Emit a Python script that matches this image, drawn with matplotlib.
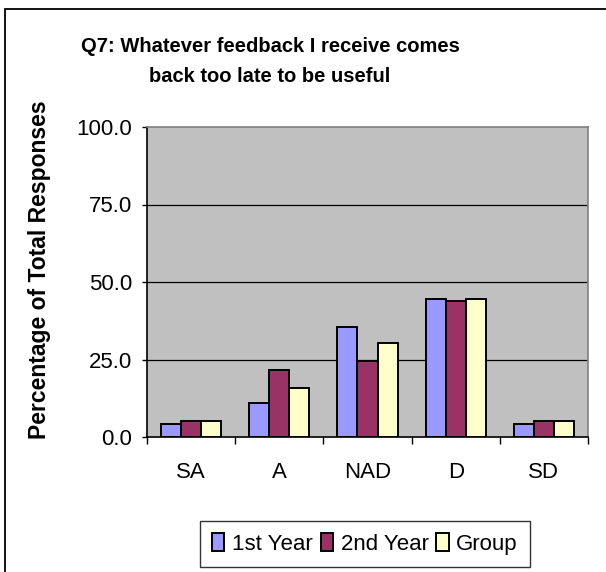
import numpy as np
import matplotlib.pyplot as plt
from matplotlib.patches import Rectangle

plt.rcParams['font.family'] = ['Liberation Sans', 'DejaVu Sans']

categorias = ['SA', 'A', 'NAD', 'D', 'SD']
primer_anio = [4.3, 10.9, 35.5, 44.6, 4.3]
segundo_anio = [5.2, 21.7, 24.5, 43.8, 5.2]
grupo = [5.2, 15.9, 30.3, 44.6, 5.2]
series = ['1st Year', '2nd Year', 'Group']
colores = ['#9999FF', '#993366', '#FFFFCC']
yticks = [0, 25, 50, 75, 100]

W, H = 606, 572
fig = plt.figure(figsize=(W / 100, H / 100), dpi=100)

# marco exterior del grafico (se corta a la derecha y abajo)
fig.patches.append(Rectangle((5 / W, -0.05), 1.1, 1 - 9 / H + 0.05, transform=fig.transFigure,
                             fill=False, edgecolor='black', linewidth=1.3))

ax = fig.add_axes([147 / W, 1 - 437 / H, (588 - 147) / W, (437 - 127) / H])
ax.set_facecolor('#C0C0C0')

x = np.arange(len(categorias))
w = 0.227
for i, (vals, nombre, c) in enumerate(zip([primer_anio, segundo_anio, grupo], series, colores)):
    ax.bar(x + (i - 1) * w, vals, width=w, color=c, edgecolor='black', linewidth=1.4,
           label=nombre, zorder=3)

ax.set_xlim(-0.5, len(categorias) - 0.5)
ax.set_ylim(0, 100)
ax.set_yticks(yticks)
ax.set_yticklabels([f'{v:.1f}' for v in yticks], fontsize=16)
for v in yticks[1:-1]:
    ax.axhline(v, color='black', linewidth=0.9, zorder=1)

ax.set_xticks(x)
ax.set_xticklabels(categorias, fontsize=16)
ax.set_xticks(np.arange(-0.5, len(categorias)), minor=True)
ax.tick_params(axis='x', which='major', length=0, pad=18)
ax.tick_params(axis='x', which='minor', length=5, width=1)
ax.tick_params(axis='y', length=3.6, width=1, pad=7)

ax.spines['left'].set_color('black')
ax.spines['bottom'].set_color('black')
ax.spines['top'].set_color('#808080')
ax.spines['right'].set_color('#808080')
for s in ax.spines.values():
    s.set_linewidth(1.2)

fig.text(270 / W, 1 - 46 / H, 'Q7: Whatever feedback I receive comes', ha='center', va='center',
         fontsize=14.5, fontweight='bold')
fig.text(270 / W, 1 - 76 / H, 'back too late to be useful', ha='center', va='center',
         fontsize=14.5, fontweight='bold')
fig.text(40 / W, 1 - 270 / H, 'Percentage of Total Responses', ha='center', va='center',
         rotation=90, fontsize=16.5, fontweight='bold')

leg = fig.legend(loc='center', bbox_to_anchor=(365 / W, 1 - 544 / H), ncol=3, fontsize=16,
                 frameon=True, fancybox=False, edgecolor='black', borderpad=0.55,
                 handlelength=0.55, handleheight=0.85, handletextpad=0.35, columnspacing=0.35)
leg.get_frame().set_linewidth(1.0)

fig.savefig('out.png', dpi=100, facecolor='white')
